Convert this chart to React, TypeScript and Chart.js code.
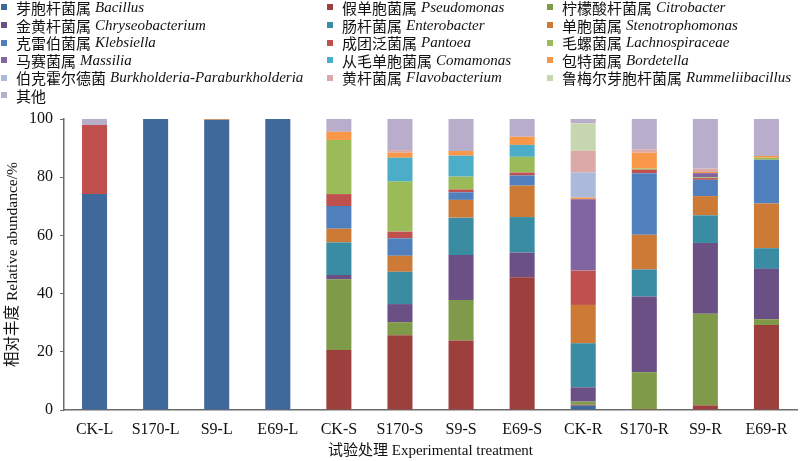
import React, { useEffect, useRef } from "react";
import { Chart, registerables } from "chart.js";

Chart.register(...registerables);

const categories = ["CK-L", "S170-L", "S9-L", "E69-L", "CK-S", "S170-S", "S9-S", "E69-S", "CK-R", "S170-R", "S9-R", "E69-R"];

const bacillus = [74.2, 100, 99.7, 100, 0, 0, 0, 0, 1.5, 0, 0, 0];
const pseudomonas = [0, 0, 0, 0, 20.6, 25.7, 23.9, 45.6, 0.3, 0.3, 1.6, 29.2];
const citrobacter = [0, 0, 0, 0, 24.3, 4.5, 13.9, 0, 1.1, 12.7, 31.5, 2.0];
const chryseobacterium = [0, 0, 0, 0, 1.5, 6.2, 15.5, 8.5, 4.9, 26.0, 24.3, 17.3];
const enterobacter = [0, 0, 0, 0, 11.2, 11.1, 12.8, 12.2, 15.1, 9.3, 9.5, 7.1];
const stenotrophomonas = [0, 0, 0, 0, 4.7, 5.5, 6.1, 10.8, 13.2, 11.9, 6.6, 15.4];
const klebsiella = [0, 0, 0, 0, 7.8, 6.0, 2.6, 3.5, 0, 21.2, 5.6, 15.0];
const pantoea = [23.7, 0, 0, 0, 4.1, 2.3, 1.0, 1.0, 11.8, 1.2, 0.6, 0];
const lachnospiraceae = [0, 0, 0, 0, 18.6, 17.2, 4.4, 5.4, 0, 0.4, 0.3, 0.7];
const massilia = [0, 0, 0, 0, 0, 0, 0, 0, 24.5, 0, 1.4, 0];
const comamonas = [0, 0, 0, 0, 0, 8.2, 7.2, 4.1, 0, 0, 0, 0];
const bordetella = [0, 0, 0.3, 0, 2.8, 1.7, 1.6, 2.8, 0.6, 5.4, 0.4, 0.6];
const burkholderia = [0, 0, 0, 0, 0, 0, 0, 0, 8.6, 0, 0, 0];
const flavobacterium = [0, 0, 0, 0, 0, 0.9, 0, 0, 7.5, 1.2, 1.2, 0];
const rummeliibacillus = [0, 0, 0, 0, 0, 0, 0, 0, 9.4, 0, 0, 0];
const others = [2.1, 0, 0, 0, 4.4, 10.7, 11.0, 6.1, 1.5, 10.4, 17.0, 12.7];

const yTicks = [0, 20, 40, 60, 80, 100];

const seriesCn = ["芽胞杆菌属", "假单胞菌属", "柠檬酸杆菌属", "金黄杆菌属", "肠杆菌属", "单胞菌属", "克雷伯菌属", "成团泛菌属", "毛螺菌属", "马赛菌属", "从毛单胞菌属", "包特菌属", "伯克霍尔德菌", "黄杆菌属", "鲁梅尔芽胞杆菌属", "其他"];
const seriesLatin = ["Bacillus", "Pseudomonas", "Citrobacter", "Chryseobacterium", "Enterobacter", "Stenotrophomonas", "Klebsiella", "Pantoea", "Lachnospiraceae", "Massilia", "Comamonas", "Bordetella", "Burkholderia-Paraburkholderia", "Flavobacterium", "Rummeliibacillus", ""];
const seriesData = [bacillus, pseudomonas, citrobacter, chryseobacterium, enterobacter, stenotrophomonas, klebsiella, pantoea, lachnospiraceae, massilia, comamonas, bordetella, burkholderia, flavobacterium, rummeliibacillus, others];
const seriesColors = ["#3F689B", "#9D3F3C", "#7F9A48", "#6A5085", "#3A8CA2", "#CC7A36", "#4F80BD", "#C0504D", "#9BBB59", "#8165A2", "#4BADC7", "#F79747", "#A9BADA", "#DBA9A8", "#C6D7AF", "#B8AECC"];

const SERIF = "'Liberation Serif', 'Times New Roman', serif";
const MIXED = "'Liberation Serif', 'Noto Sans CJK SC', serif";

const legendColX = [1, 327, 547];
const legendRowY = [7, 25, 42.5, 60, 77.5, 95];

export default function App() {
  const ref = useRef<HTMLCanvasElement | null>(null);

  useEffect(() => {
    if (!ref.current) return;
    const chart = new Chart(ref.current, {
      type: "bar",
      data: {
        labels: categories,
        datasets: seriesData.map((d, i) => ({
          label: seriesCn[i] + (seriesLatin[i] ? " " + seriesLatin[i] : ""),
          data: d,
          backgroundColor: seriesColors[i],
          borderWidth: 0,
          categoryPercentage: 1,
          barPercentage: 0.41,
        })),
      },
      options: {
        responsive: false,
        animation: false,
        layout: { padding: { top: 119, right: 3, left: 0, bottom: 0 } },
        plugins: { legend: { display: false }, tooltip: { enabled: false } },
        scales: {
          x: {
            stacked: true,
            grid: { display: false, drawTicks: false },
            border: { display: true, color: "#6b6b6b", width: 1.5 },
            ticks: { color: "#111", font: { family: SERIF, size: 16 }, padding: 10, maxRotation: 0, autoSkip: false },
            title: { display: true, text: "试验处理 Experimental treatment", color: "#111", font: { family: MIXED, size: 15 }, padding: { top: 2, bottom: 1 } },
            afterFit: (s: any) => { s.height = 51; },
          },
          y: {
            stacked: true,
            min: 0,
            max: 100,
            afterBuildTicks: (s: any) => { s.ticks = yTicks.map((v) => ({ value: v })); },
            grid: { display: true, drawOnChartArea: false, drawTicks: true, tickLength: 4, color: "#6b6b6b" },
            border: { display: true, color: "#6b6b6b", width: 1.5 },
            ticks: { color: "#111", font: { family: SERIF, size: 16 }, padding: 7 },
            title: { display: true, text: "相对丰度 Relative abundance/%", color: "#111", font: { family: MIXED, size: 15.5 }, padding: { top: 4, bottom: 2 } },
            afterFit: (s: any) => { s.width = 64; },
          },
        },
      },
    });
    return () => chart.destroy();
  }, []);

  return (
    <div style={{ position: "absolute", left: 0, top: 0, width: 800, height: 461, background: "#fff", overflow: "hidden" }}>
      <canvas ref={ref} width={800} height={461} style={{ position: "absolute", left: 0, top: 0, width: 800, height: 461 }} />
      {seriesCn.map((cn, i) => {
        const col = i === 15 ? 0 : i % 3;
        const row = i === 15 ? 5 : Math.floor(i / 3);
        return (
          <div
            key={i}
            style={{
              position: "absolute",
              left: legendColX[col],
              top: legendRowY[row] - 10,
              height: 20,
              display: "flex",
              alignItems: "center",
              whiteSpace: "nowrap",
              fontSize: 15,
              color: "#111",
            }}
          >
            <span style={{ display: "inline-block", width: 6, height: 6, background: seriesColors[i], marginRight: 9 }} />
            <span style={{ fontFamily: "'Noto Sans CJK SC', sans-serif" }}>{cn}</span>
            {seriesLatin[i] ? (
              <span style={{ fontFamily: SERIF, fontStyle: "italic", marginLeft: 4 }}>{seriesLatin[i]}</span>
            ) : null}
          </div>
        );
      })}
    </div>
  );
}
